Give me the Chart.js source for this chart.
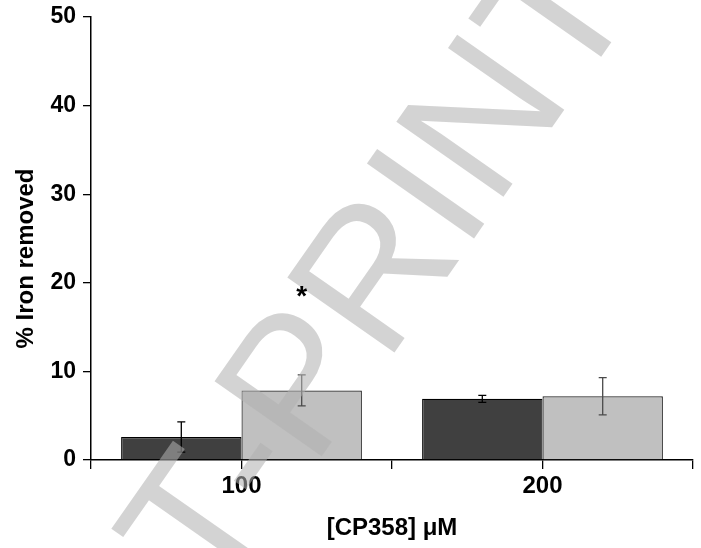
<!DOCTYPE html>
<html>
<head>
<meta charset="utf-8">
<script src="https://cdn.jsdelivr.net/npm/chart.js@4.4.1/dist/chart.umd.min.js"></script>
<style>
  html, body { margin: 0; padding: 0; background: #fff; }
  #wrap { width: 701px; height: 548px; position: relative; }
</style>
</head>
<body>
<div id="wrap"><canvas id="c"></canvas></div>
<script>
// data
var groups = [1, 2];                 // x positions of the two concentrations
var groupLabels = ["100", "200"];
var xTicks = [0.5, 1, 1.5, 2, 2.5];
var darkValues = [2.6, 6.9];
var darkErrors = [1.7, 0.4];
var lightValues = [7.85, 7.2];
var lightErrors = [1.75, 2.1];
var yTicks = [0, 10, 20, 30, 40, 50];
var starLevel = 19;                  // asterisk above light bar at 100

var font = "'Liberation Sans', Arial, Helvetica, sans-serif";

function pts(vals) {
    return vals.map(function (v, i) { return { x: groups[i], y: v }; });
}

var errorBars = {
    id: "errorBars",
    afterDatasetsDraw: function (chart) {
        var ctx = chart.ctx;
        var ys = chart.scales.y;
        var errs = [darkErrors, lightErrors];
        var cols = ["#000000", "#4a4a4a"];
        chart.data.datasets.forEach(function (ds, di) {
            var meta = chart.getDatasetMeta(di);
            meta.data.forEach(function (bar, i) {
                var v = ds.data[i].y, e = errs[di][i];
                var top = ys.getPixelForValue(v + e);
                var bot = ys.getPixelForValue(v - e);
                ctx.save();
                ctx.strokeStyle = cols[di];
                ctx.lineWidth = 1.3;
                ctx.beginPath();
                ctx.moveTo(bar.x, top); ctx.lineTo(bar.x, bot);
                ctx.moveTo(bar.x - 4, top); ctx.lineTo(bar.x + 4, top);
                ctx.moveTo(bar.x - 4, bot); ctx.lineTo(bar.x + 4, bot);
                ctx.stroke();
                ctx.restore();
            });
        });
    }
};

var watermark = {
    id: "watermark",
    afterDraw: function (chart) {
        var ctx = chart.ctx;
        ctx.save();
        ctx.translate(257, 430);
        ctx.rotate(-55 * Math.PI / 180);
        ctx.font = "190px " + font;
        ctx.fillStyle = "rgba(177,177,177,0.56)";
        ctx.textAlign = "center";
        ctx.textBaseline = "alphabetic";
        ctx.fillText("POST-PRINT", 0, 68);
        ctx.restore();
        // significance star, drawn on top
        var ys = chart.scales.y;
        var b = chart.getDatasetMeta(1).data[0];
        ctx.save();
        ctx.fillStyle = "#000";
        ctx.font = "bold 28px " + font;
        ctx.textAlign = "center";
        ctx.textBaseline = "alphabetic";
        var m = ctx.measureText("*");
        var yc = ys.getPixelForValue(starLevel);
        ctx.fillText("*", b.x, yc + (m.actualBoundingBoxAscent - m.actualBoundingBoxDescent) / 2);
        ctx.restore();
    }
};

new Chart(document.getElementById("c"), {
    type: "bar",
    data: {
        datasets: [{
            data: pts(darkValues),
            backgroundColor: "#404040",
            borderColor: "#000000",
            borderWidth: 1.2
        }, {
            data: pts(lightValues),
            backgroundColor: "#c0c0c0",
            borderColor: "#222222",
            borderWidth: 1.2
        }]
    },
    options: {
        responsive: true,
        maintainAspectRatio: false,
        animation: false,
        categoryPercentage: 1.6,
        barPercentage: 1.0,
        layout: { padding: { top: 17, right: 8, left: 0, bottom: 0 } },
        plugins: { legend: { display: false }, tooltip: { enabled: false } },
        scales: {
            x: {
                type: "linear",
                offset: false,
                min: 0.5, max: 2.5,
                afterFit: function (s) { s.height = 88; s.paddingLeft = 0; s.paddingRight = 0; },
                afterBuildTicks: function (s) {
                    s.ticks = xTicks.map(function (v) { return { value: v }; });
                },
                ticks: {
                    color: "#000",
                    font: { family: font, size: 24, weight: "bold" },
                    padding: 3,
                    maxRotation: 0,
                    autoSkip: false,
                    callback: function (v) {
                        var i = groups.indexOf(v);
                        return i >= 0 ? groupLabels[i] : "";
                    }
                },
                grid: { offset: false, drawOnChartArea: false, drawTicks: true, tickLength: 9, color: "#000", lineWidth: 1.3 },
                border: { display: true, color: "#000", width: 1.5 },
                title: {
                    display: true, text: "[CP358] \u03bcM", color: "#000",
                    font: { family: font, size: 24, weight: "bold" },
                    padding: { top: 0, bottom: 5 }
                }
            },
            y: {
                min: 0, max: 50,
                afterFit: function (s) { s.width = 91; s.paddingTop = 0; s.paddingBottom = 0; },
                afterBuildTicks: function (s) {
                    s.ticks = yTicks.map(function (v) { return { value: v }; });
                },
                ticks: {
                    color: "#000",
                    font: { family: font, size: 23, weight: "bold" },
                    padding: 7
                },
                grid: { drawOnChartArea: false, drawTicks: true, tickLength: 8, color: "#000", lineWidth: 1.3 },
                border: { display: true, color: "#000", width: 1.5 },
                title: {
                    display: true, text: "% Iron removed\u00a0\u00a0\u00a0\u00a0\u00a0\u00a0", color: "#000",
                    font: { family: font, size: 24, weight: "bold" },
                    padding: { top: 12, bottom: 0 }
                }
            }
        }
    },
    plugins: [errorBars, watermark]
});
</script>
</body>
</html>
